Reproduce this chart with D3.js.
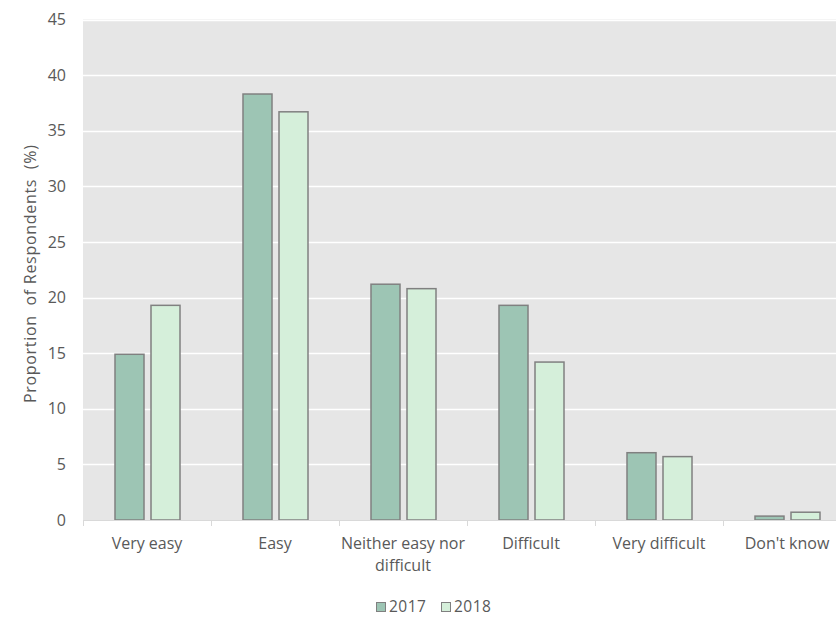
<!DOCTYPE html>
<html>
<head>
<meta charset="utf-8">
<script src="https://cdn.jsdelivr.net/npm/d3@7"></script>
<style>
  html, body { margin: 0; padding: 0; background: #ffffff; overflow: hidden; }
  svg { display: block; }
  text { font-family: "Open Sans", "Noto Sans", sans-serif; fill: #595959; }
</style>
</head>
<body>
<svg id="chart" width="836" height="617"></svg>
<script>
const categories = ["Very easy", "Easy", "Neither easy nor difficult", "Difficult", "Very difficult", "Don't know"];
const categoryLines = [["Very easy"], ["Easy"], ["Neither easy nor", "difficult"], ["Difficult"], ["Very difficult"], ["Don't know"]];
const seriesNames = ["2017", "2018"];
const values2017 = [14.9, 38.3, 21.2, 19.3, 6.05, 0.35];
const values2018 = [19.3, 36.7, 20.8, 14.2, 5.7, 0.7];
const yTicks = [0, 5, 10, 15, 20, 25, 30, 35, 40, 45];
const yTitle = "Proportion  of Respondents  (%)";

const colors = { "2017": "#9dc5b4", "2018": "#d5efda" };
const seriesValues = { "2017": values2017, "2018": values2018 };

const svg = d3.select("#chart");
const plotLeft = 83, plotRight = 851, plotTop = 19.5, plotBottom = 520;
const fs = 16;

const x = d3.scaleBand().domain(categories).range([plotLeft, plotRight]).paddingInner(0).paddingOuter(0);
const x1 = d3.scaleBand().domain(seriesNames).range([32, 97]).paddingInner(7 / 36).paddingOuter(0);
const y = d3.scaleLinear().domain([0, 45]).range([plotBottom, plotTop]);

// background
svg.append("rect")
  .attr("x", plotLeft).attr("y", plotTop)
  .attr("width", plotRight - plotLeft).attr("height", plotBottom - plotTop)
  .attr("fill", "#e6e6e6");

// gridlines
svg.append("g").selectAll("line").data(yTicks.filter(d => d > 0)).join("line")
  .attr("x1", plotLeft).attr("x2", plotRight)
  .attr("y1", d => Math.round(y(d)) + 0.5).attr("y2", d => Math.round(y(d)) + 0.5)
  .attr("stroke", "#ffffff").attr("stroke-width", 1.5);

// bars
const data = [];
categories.forEach((c, i) => seriesNames.forEach(s => data.push({ c, s, v: seriesValues[s][i] })));
svg.append("g").selectAll("rect").data(data).join("rect")
  .attr("x", d => x(d.c) + x1(d.s))
  .attr("y", d => y(d.v))
  .attr("width", x1.bandwidth())
  .attr("height", d => y(0) - y(d.v))
  .attr("fill", d => colors[d.s])
  .attr("stroke", "#808080")
  .attr("stroke-width", 1.5);

// x axis line + ticks
const xAxis = svg.append("g");
xAxis.append("line")
  .attr("x1", plotLeft).attr("x2", plotRight)
  .attr("y1", plotBottom + 0.5).attr("y2", plotBottom + 0.5)
  .attr("stroke", "#d9d9d9").attr("stroke-width", 1);
const edges = categories.map(c => x(c)).concat([x(categories[categories.length - 1]) + x.bandwidth()]);
xAxis.selectAll("line.tick").data(edges).join("line")
  .attr("class", "tick")
  .attr("x1", d => Math.round(d) + 0.5).attr("x2", d => Math.round(d) + 0.5)
  .attr("y1", plotBottom).attr("y2", plotBottom + 6)
  .attr("stroke", "#d9d9d9").attr("stroke-width", 1);

// x labels
const xl = xAxis.selectAll("text.lbl").data(categories).join("text")
  .attr("class", "lbl")
  .attr("text-anchor", "middle")
  .attr("font-size", fs)
  .attr("transform", d => `translate(${x(d) + x.bandwidth() / 2},${plotBottom + 29})`);
xl.each(function (d, i) {
  const t = d3.select(this);
  categoryLines[i].forEach((ln, j) => {
    t.append("tspan").attr("x", 0).attr("dy", j === 0 ? 0 : 22).text(ln);
  });
});

// y labels
svg.append("g").selectAll("text").data(yTicks).join("text")
  .attr("x", 66).attr("y", d => y(d))
  .attr("dy", "0.35em")
  .attr("text-anchor", "end")
  .attr("font-size", fs)
  .text(d => d);

// y title
svg.append("text")
  .attr("transform", `translate(36,${(plotTop + plotBottom) / 2 + 4}) rotate(-90)`)
  .attr("text-anchor", "middle")
  .attr("font-size", fs)
  .attr("letter-spacing", 0.7)
  .style("white-space", "pre")
  .text(yTitle);

// legend
const legend = svg.append("g");
const legendX = [376, 441];
seriesNames.forEach((s, i) => {
  legend.append("rect")
    .attr("x", legendX[i] + 0.5).attr("y", 602.5)
    .attr("width", 9).attr("height", 9)
    .attr("fill", colors[s]).attr("stroke", "#808080").attr("stroke-width", 1);
  legend.append("text")
    .attr("x", legendX[i] + 13).attr("y", 607)
    .attr("dy", "0.35em")
    .attr("font-size", 15.5)
    .attr("letter-spacing", 0.5)
    .text(s);
});
</script>
</body>
</html>
